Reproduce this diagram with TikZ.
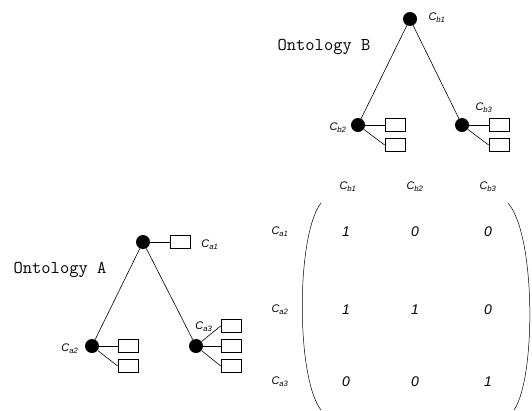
\documentclass[tikz,border=0pt]{standalone}
\usepackage{fontspec}
\setmainfont{Liberation Sans}

\tikzset{
  concept/.style={circle,fill=black,inner sep=0pt,minimum size=14pt},
  instance/.style={draw,line width=0.7pt,minimum width=20pt,minimum height=13pt,inner sep=0pt},
  clabel/.style={font=\itshape\fontsize{11}{11}\selectfont,inner sep=0pt},
  entry/.style={font=\itshape\fontsize{14}{14}\selectfont,inner sep=0pt},
  ontoname/.style={font=\ttfamily\fontsize{18}{18}\selectfont,inner sep=0pt},
}

\begin{document}
\begin{tikzpicture}[x=1pt,y=-1pt,line width=0.6pt]
\useasboundingbox (0,0) rectangle (532,410);

% ontology B
\node[ontoname] (nameB) at (324,47) {Ontology B};
\node[concept] (b1) at (410,19) {};
\node[concept] (b2) at (358,125) {};
\node[concept] (b3) at (462,125) {};
\node[clabel] at (437,18) {C\textsubscript{b1}};
\node[clabel] at (338,128) {C\textsubscript{b2}};
\node[clabel] at (484,108) {C\textsubscript{b3}};
\node[instance] (b2i1) at (395,125) {};
\node[instance] (b2i2) at (395,145) {};
\node[instance] (b3i1) at (499,125) {};
\node[instance] (b3i2) at (499,145) {};
\draw (b1) -- (b2);
\draw (b1) -- (b3);
\draw (b2i1.west) -- (b2);
\draw (b2i2.west) -- (b2);
\draw (b3i1.west) -- (b3);
\draw (b3i2.west) -- (b3);

% ontology A
\node[ontoname] (nameA) at (60,270) {Ontology A};
\node[concept] (a1) at (143,242) {};
\node[concept] (a2) at (92,346) {};
\node[concept] (a3) at (196,346) {};
\node[clabel] at (210,245) {C\textsubscript{a1}};
\node[clabel] at (70,349) {C\textsubscript{a2}};
\node[clabel] at (204,327) {C\textsubscript{a3}};
\node[instance] (a1i1) at (180,242) {};
\node[instance] (a2i1) at (128,346) {};
\node[instance] (a2i2) at (128,366) {};
\node[instance] (a3i1) at (231,326) {};
\node[instance] (a3i2) at (231,346) {};
\node[instance] (a3i3) at (231,366) {};
\draw (a1) -- (a2);
\draw (a1) -- (a3);
\draw (a1i1.west) -- (a1);
\draw (a2i1.west) -- (a2);
\draw (a2i2.west) -- (a2);
\draw (a3i1.west) -- (a3);
\draw (a3i2.west) -- (a3);
\draw (a3i3.west) -- (a3);

% similarity matrix
\node[clabel] at (348,187) {C\textsubscript{b1}};
\node[clabel] at (415,187) {C\textsubscript{b2}};
\node[clabel] at (488,187) {C\textsubscript{b3}};
\node[clabel] at (280,232) {C\textsubscript{a1}};
\node[clabel] at (280,310) {C\textsubscript{a2}};
\node[clabel] at (280,382) {C\textsubscript{a3}};
\node[entry] at (346,232) {1};
\node[entry] at (415,232) {0};
\node[entry] at (488,232) {0};
\node[entry] at (346,310) {1};
\node[entry] at (415,310) {1};
\node[entry] at (488,310) {0};
\node[entry] at (346,382) {0};
\node[entry] at (415,382) {0};
\node[entry] at (488,382) {1};
\draw[line width=0.5pt] (321,203) .. controls (296,235) and (296,378) .. (321,410);
\draw[line width=0.5pt] (508,203) .. controls (536,235) and (536,378) .. (514,410);

\end{tikzpicture}
\end{document}
